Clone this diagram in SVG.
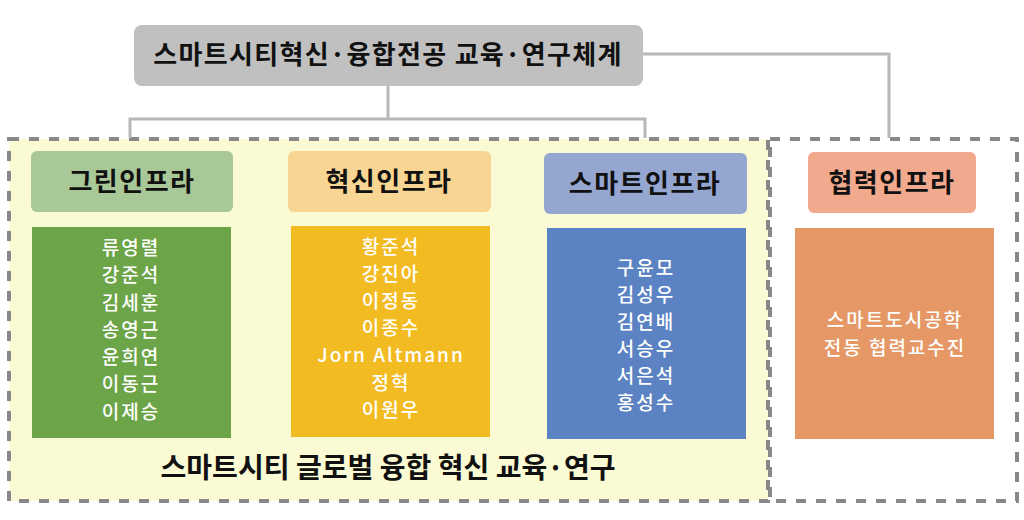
<svg xmlns="http://www.w3.org/2000/svg" width="1024" height="520" viewBox="0 0 1024 520">
<style>
.hdr{font-family:"Noto Sans CJK KR","Noto Sans",sans-serif;font-weight:700;font-size:26px;fill:#111;text-anchor:middle;letter-spacing:1.5px}
.nm{font-family:"Noto Sans CJK KR","Noto Sans",sans-serif;font-weight:500;font-size:19px;fill:#fff;text-anchor:middle;letter-spacing:2px}
.conn{fill:none;stroke:#b8b8b8;stroke-width:3}
.region{stroke:#888;stroke-width:4;stroke-dasharray:10 10}
</style>
<rect width="1024" height="520" fill="#fff"/>
<g id="region-main"><rect class="region" x="9" y="139" width="759" height="362" fill="#fafad4"/></g>
<g id="region-coop"><rect class="region" x="770" y="139" width="247" height="362" fill="#fff"/></g>
<g id="connectors">
<path class="conn" d="M388 86 V119 M130 138 V119 H645 V138"/>
<path class="conn" d="M643 54 H889 V138"/>
</g>
<g id="title">
<rect x="134" y="25" width="509" height="61" rx="8" fill="#c0c0c0"/>
<text x="388" y="64" class="hdr" style="font-size:26px;letter-spacing:1.3px">스마트시티혁신·융합전공 교육·연구체계</text>
</g>
<g id="green-header">
<rect x="31" y="151" width="202" height="61" rx="6" fill="#a9c897"/>
<text x="132" y="191" class="hdr">그린인프라</text>
</g>
<g id="innov-header">
<rect x="288" y="151" width="203" height="61" rx="6" fill="#f8d592"/>
<text x="389" y="191" class="hdr">혁신인프라</text>
</g>
<g id="smart-header">
<rect x="544" y="153" width="203" height="61" rx="6" fill="#95a6d0"/>
<text x="645" y="193" class="hdr">스마트인프라</text>
</g>
<g id="coop-header">
<rect x="808" y="152" width="168" height="61" rx="6" fill="#f2aa8e"/>
<text x="892" y="192" class="hdr">협력인프라</text>
</g>
<g id="green-members">
<rect x="32" y="227" width="199" height="211" fill="#6ca548"/>
<text class="nm" x="131" y="255">류영렬</text>
<text class="nm" x="131" y="282">강준석</text>
<text class="nm" x="131" y="310">김세훈</text>
<text class="nm" x="131" y="337">송영근</text>
<text class="nm" x="131" y="364">윤희연</text>
<text class="nm" x="131" y="391">이동근</text>
<text class="nm" x="131" y="419">이제승</text>
</g>
<g id="innov-members">
<rect x="291" y="226" width="199" height="211" fill="#f3bb22"/>
<text class="nm" x="391" y="254">황준석</text>
<text class="nm" x="391" y="281">강진아</text>
<text class="nm" x="391" y="308">이정동</text>
<text class="nm" x="391" y="335">이종수</text>
<text class="nm" x="391" y="362">Jorn Altmann</text>
<text class="nm" x="391" y="390">정혁</text>
<text class="nm" x="391" y="417">이원우</text>
</g>
<g id="smart-members">
<rect x="547" y="228" width="199" height="211" fill="#5b82c2"/>
<text class="nm" x="646" y="275">구윤모</text>
<text class="nm" x="646" y="302">김성우</text>
<text class="nm" x="646" y="329">김연배</text>
<text class="nm" x="646" y="356">서승우</text>
<text class="nm" x="646" y="383">서은석</text>
<text class="nm" x="646" y="410">홍성수</text>
</g>
<g id="coop-members">
<rect x="795" y="228" width="199" height="211" fill="#e59865"/>
<text class="nm" x="895" y="327">스마트도시공학</text>
<text class="nm" x="895" y="355">전동 협력교수진</text>
</g>
<g id="footer">
<text x="388" y="478" class="hdr" style="font-size:28px;letter-spacing:0" textLength="455" lengthAdjust="spacingAndGlyphs">스마트시티 글로벌 융합 혁신 교육·연구</text>
</g>
</svg>
